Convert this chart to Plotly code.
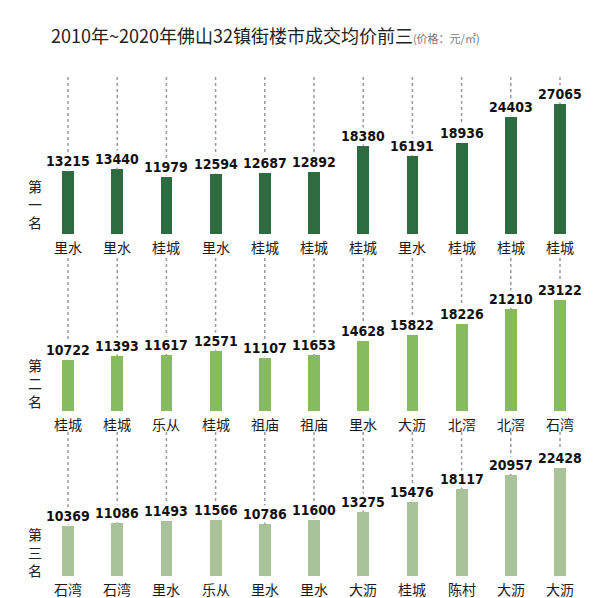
import plotly.graph_objects as go

# ---- data ----
years = ["2010", "2011", "2012", "2013", "2014", "2015", "2016", "2017", "2018", "2019", "2020"]
rank_labels = ["第一名", "第二名", "第三名"]
first_towns = ["里水", "里水", "桂城", "里水", "桂城", "桂城", "桂城", "里水", "桂城", "桂城", "桂城"]
first_prices = [13215, 13440, 11979, 12594, 12687, 12892, 18380, 16191, 18936, 24403, 27065]
second_towns = ["桂城", "桂城", "乐从", "桂城", "祖庙", "祖庙", "里水", "大沥", "北滘", "北滘", "石湾"]
second_prices = [10722, 11393, 11617, 12571, 11107, 11653, 14628, 15822, 18226, 21210, 23122]
third_towns = ["石湾", "石湾", "里水", "乐从", "里水", "里水", "大沥", "桂城", "陈村", "大沥", "大沥"]
third_prices = [10369, 11086, 11493, 11566, 10786, 11600, 13275, 15476, 18117, 20957, 22428]

towns = [first_towns, second_towns, third_towns]
prices = [first_prices, second_prices, third_prices]
colors = ["#2f6b40", "#86bc5e", "#a9c29a"]

W, H = 600, 598
S = 0.0048  # px per unit
bases = [234, 411, 576]      # pixel y of bar bottoms
tops = [77, 258, 432]        # pixel y of top of dashed guides
rank_centers = [204, 383, 552]
x_first, x_step = 68, 49.2
x_range = [(0 - x_first) / x_step, (W - x_first) / x_step]

CJK = "Noto Sans CJK SC, sans-serif"
NUM = "Liberation Sans Narrow, Arial Narrow, DejaVu Sans Condensed, Noto Sans, sans-serif"

fig = go.Figure()
layout = dict(
    width=W, height=H, margin=dict(l=0, r=0, t=0, b=0),
    paper_bgcolor="white", plot_bgcolor="rgba(0,0,0,0)",
    showlegend=False, bargap=0,
)
annotations = []
idx = list(range(len(years)))

for r in range(3):
    sfx = "" if r == 0 else str(r + 1)
    xa, ya = "x" + sfx, "y" + sfx
    ymax = (bases[r] - tops[r]) / S
    layout["xaxis" + sfx] = dict(domain=[0, 1], range=x_range, visible=False,
                                 anchor=ya, fixedrange=True)
    layout["yaxis" + sfx] = dict(domain=[1 - bases[r] / H, 1 - tops[r] / H],
                                 range=[0, ymax], visible=False, anchor=xa,
                                 fixedrange=True)
    # dashed guides
    lx, ly = [], []
    for i, v in zip(idx, prices[r]):
        lx += [i, i, None]
        ly += [ymax, v, None]
    fig.add_trace(go.Scatter(x=lx, y=ly, mode="lines", xaxis=xa, yaxis=ya,
                             line=dict(color="#9a9a9a", width=1.5, dash="dot"),
                             hoverinfo="skip"))
    fig.add_trace(go.Bar(x=idx, y=prices[r], width=0.24, xaxis=xa, yaxis=ya,
                         marker=dict(color=colors[r], line=dict(width=0))))
    for i, v, t in zip(idx, prices[r], towns[r]):
        annotations.append(dict(x=i, y=v, xref=xa, yref=ya, text="<b>%d</b>" % v,
                                showarrow=False, yanchor="middle", yshift=10,
                                font=dict(family=NUM, size=14, color="#111"),
                                bgcolor="white", borderpad=0))
        annotations.append(dict(x=i, y=0, xref=xa, yref=ya, text=t,
                                showarrow=False, yanchor="middle", yshift=-13,
                                font=dict(family=CJK, size=14, color="#1a1a1a")))
    # rank label (vertical)
    annotations.append(dict(x=35 / W, y=1 - rank_centers[r] / H, xref="paper", yref="paper",
                            xanchor="center", yanchor="middle",
                            text="<br>".join(list(rank_labels[r])), showarrow=False,
                            font=dict(family=CJK, size=14, color="#222")))

annotations.append(dict(
    x=265 / W, y=1 - 35 / H, xref="paper", yref="paper", xanchor="center", yanchor="middle",
    showarrow=False,
    text="2010年~2020年佛山32镇街楼市成交均价前三"
         "<span style='font-size:11px;color:#777'>(价格：元/㎡)</span>",
    font=dict(family=CJK, size=18, color="#222")))

layout["annotations"] = annotations
fig.update_layout(**layout)
fig.write_html("out.html")
